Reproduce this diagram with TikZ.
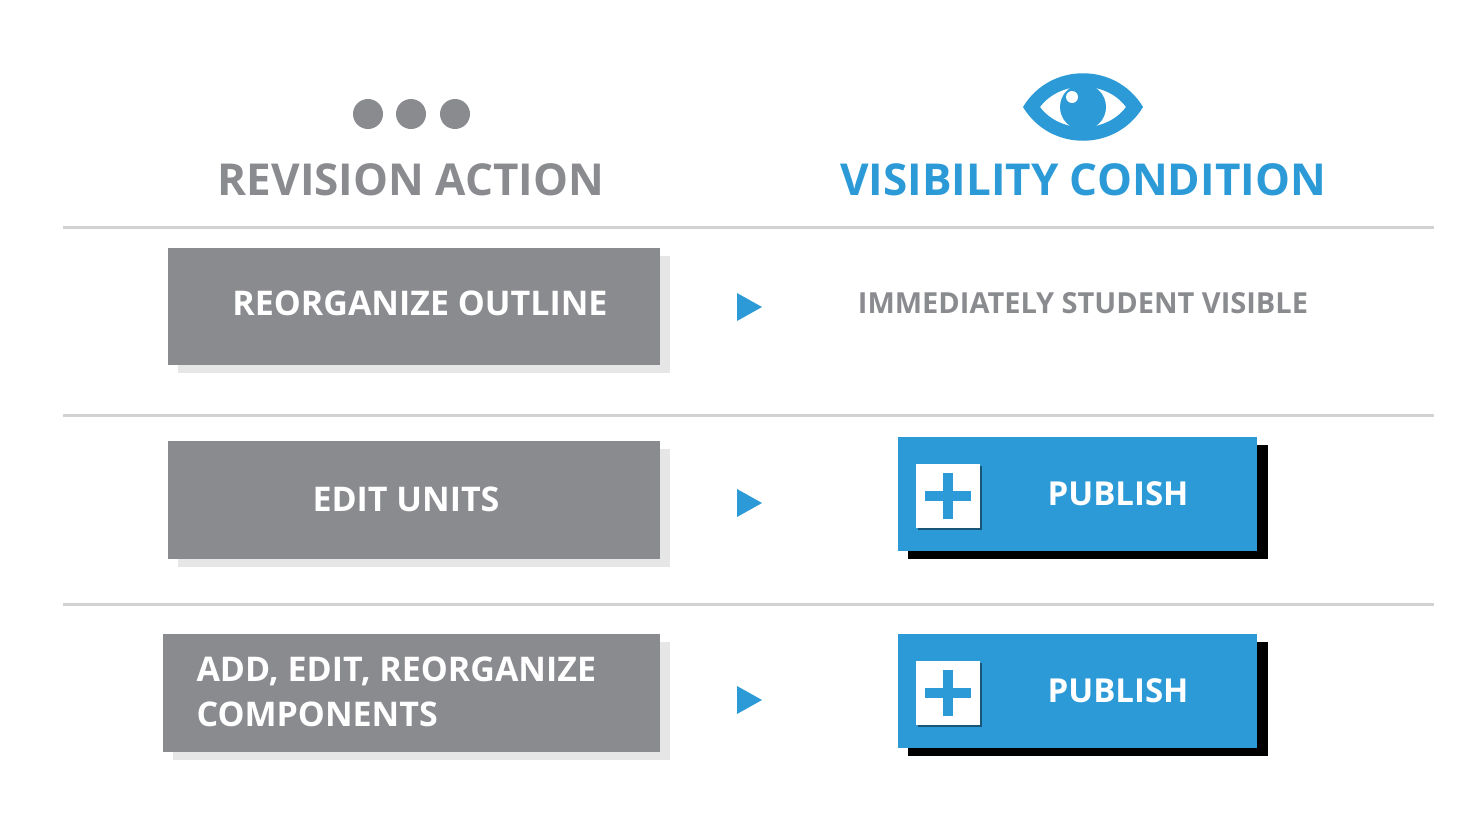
\documentclass[tikz,border=0pt]{standalone}
\usepackage{fontspec}
\setmainfont{Open Sans}
\definecolor{gr}{HTML}{8A8B8F}
\definecolor{bl}{HTML}{2B9AD6}
\definecolor{sh}{HTML}{E6E6E6}
\definecolor{lbl}{HTML}{D5E9F6}
\definecolor{ln}{HTML}{D2D2D2}
\begin{document}
\begin{tikzpicture}[x=1pt,y=-1pt,
  sep/.style={ln,line width=3pt},
  tri/.style={fill=bl},
  lbl/.style={font=\bfseries\fontsize{34}{40}\selectfont,text=white},
  pub/.style={font=\bfseries\fontsize{33}{40}\selectfont,text=white}]
\useasboundingbox (0,0) rectangle (1458,833);
% header
\foreach \x/\n in {368/a,411/b,455/c}\fill[gr] (\x,114) circle (15) coordinate (dot\n);
\node[font=\bfseries\fontsize{44}{50}\selectfont,text=gr] (h1) at (411,180) {REVISION ACTION};
\node[font=\bfseries\fontsize{44}{50}\selectfont,text=bl] (h2) at (1083,180) {VISIBILITY CONDITION};
% eye
\fill[bl,even odd rule] (1023,107) .. controls (1050,62) and (1116,62) .. (1143,107) .. controls (1116,152) and (1050,152) .. (1023,107)
 (1040,107) .. controls (1060,80) and (1106,80) .. (1126,107) .. controls (1106,134) and (1060,134) .. (1040,107);
\fill[bl] (1083,107) circle (23);
\fill[white] (1072,97) circle (6);
% separators
\foreach \y in {227,415,604}\draw[sep] (63,\y) -- (1434,\y);
% left boxes
\fill[sh] (178,256) rectangle (670,373);
\fill[gr] (168,248) rectangle (660,365);
\node[lbl] (b1) at (420,303) {REORGANIZE OUTLINE};
\fill[sh] (178,449) rectangle (670,567);
\fill[gr] (168,441) rectangle (660,559);
\node[lbl] (b2) at (406,499) {EDIT UNITS};
\fill[sh] (173,642) rectangle (670,760);
\fill[gr] (163,634) rectangle (660,752);
\node[lbl,anchor=west,align=left,font=\bfseries\fontsize{34}{45}\selectfont] (b3) at (193,692) {ADD, EDIT, REORGANIZE\\COMPONENTS};
% arrows
\foreach \y in {307,503,700}\fill[bl] (737,\y-14) -- (762,\y) -- (737,\y+14) -- cycle;
% right
\node[font=\bfseries\fontsize{29}{34}\selectfont,text=gr] (r1) at (1083,303) {IMMEDIATELY STUDENT VISIBLE};
\foreach \t/\n in {437/p1,634/p2}{
  \fill[lbl] (908,\t+8) rectangle (1268,\t+122);
  \fill[bl] (898,\t) rectangle (1257,\t+114);
  \fill[black!45!bl] (918,\t+29) rectangle (982,\t+93);
  \fill[white] (916,\t+27) rectangle (980,\t+91);
  \fill[bl] (925,\t+54) rectangle (971,\t+64);
  \fill[bl] (943,\t+36) rectangle (953,\t+82);
  \node[pub] (\n) at (1118,\t+57) {PUBLISH};
}
\end{tikzpicture}
\end{document}
